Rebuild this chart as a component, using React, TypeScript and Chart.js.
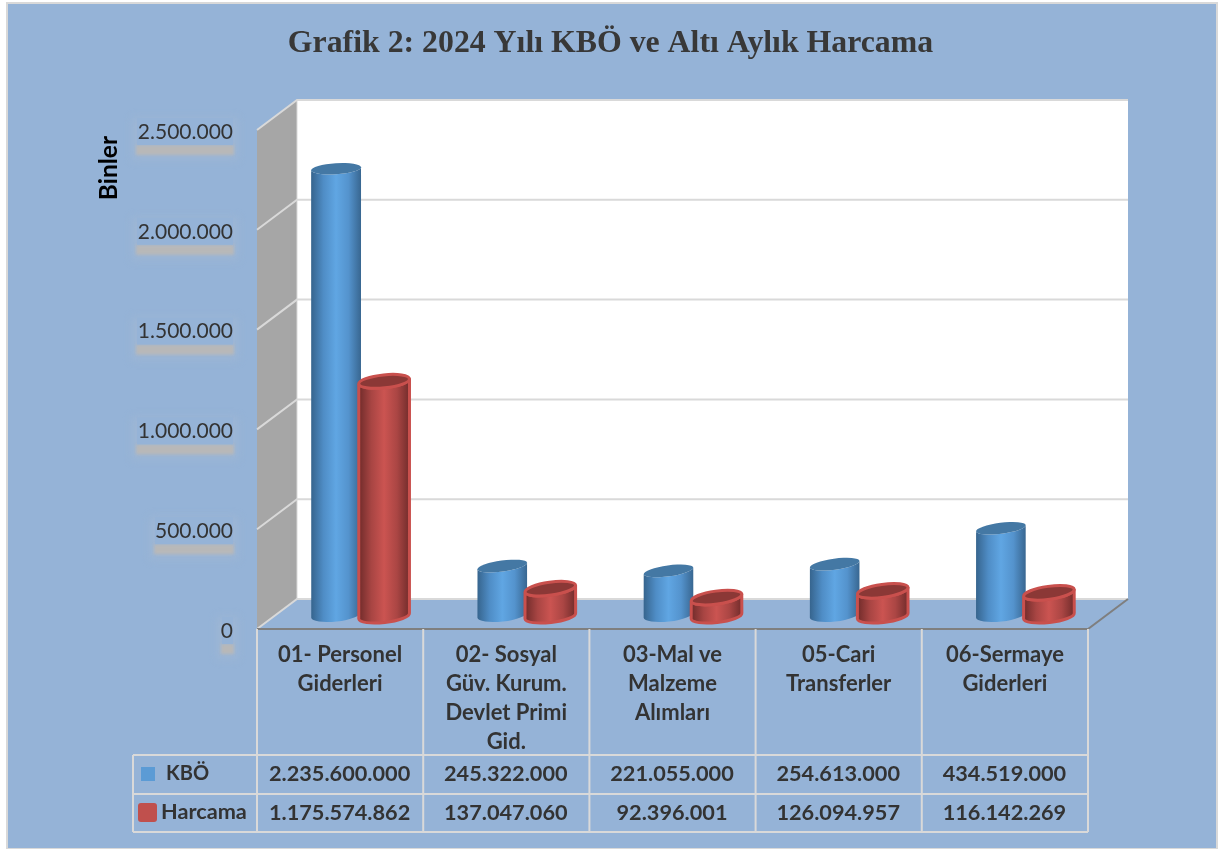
import React, { useEffect, useRef } from "react";
import { Chart, registerables } from "chart.js";

Chart.register(...registerables);

const categories: string[][] = [
  ["01- Personel", "Giderleri"],
  ["02- Sosyal", "Güv. Kurum.", "Devlet Primi", "Gid."],
  ["03-Mal ve", "Malzeme", "Alımları"],
  ["05-Cari", "Transferler"],
  ["06-Sermaye", "Giderleri"],
];
const kbo = [2235600000, 245322000, 221055000, 254613000, 434519000];
const harcama = [1175574862, 137047060, 92396001, 126094957, 116142269];
const yTicks = [0, 500000000, 1000000000, 1500000000, 2000000000, 2500000000];

const BG = "#95b3d7";
const GRID = "#d9d9d9";
const TEXT = "#333333";
const FONT = "Lato";

const dots = (n: number) => String(Math.round(n)).replace(/\B(?=(\d{3})+(?!\d))/g, ".");

const DEPTH_X = 40;
const DEPTH_Y = -30;
const BAR_DX = 20;
const BAR_DY = -14;

function line(ctx: CanvasRenderingContext2D, pts: number[][], color: string, w: number) {
  ctx.save();
  ctx.strokeStyle = color;
  ctx.lineWidth = w;
  ctx.beginPath();
  pts.forEach((p, i) => (i ? ctx.lineTo(p[0], p[1]) : ctx.moveTo(p[0], p[1])));
  ctx.stroke();
  ctx.restore();
}

function cylinder(
  ctx: CanvasRenderingContext2D,
  cx: number,
  top: number,
  base: number,
  rx: number,
  series: number
) {
  const tiltOf = (y: number) => (-(3 + (5 * (y - 100)) / 500) * Math.PI) / 180;
  const ry = series === 0 ? 5.5 : 6.5;
  const rotT = tiltOf(top);
  const rotB = tiltOf(base) * 0.8;
  const g = ctx.createLinearGradient(cx - rx, 0, cx + rx, 0);
  const stops =
    series === 0
      ? ["#36648d", "#4f8dc6", "#60a6e3", "#5493cd", "#386690"]
      : ["#6f2b2a", "#a84543", "#cb5451", "#ab4644", "#712c2b"];
  stops.forEach((c, i) => g.addColorStop(i / 4, c));
  ctx.save();
  ctx.beginPath();
  ctx.ellipse(cx, base, rx, ry + (series === 0 ? 1 : 0), rotB, Math.PI, 0, true);
  ctx.ellipse(cx, top, rx, ry, rotT, 0, Math.PI, false);
  ctx.closePath();
  ctx.fillStyle = g;
  ctx.fill();
  if (series === 1) {
    ctx.strokeStyle = "#c9504d";
    ctx.lineWidth = 3;
    ctx.stroke();
  }
  ctx.beginPath();
  ctx.ellipse(cx, top, rx, ry, rotT, 0, Math.PI * 2);
  ctx.fillStyle = series === 0 ? "#4478a4" : "#8b3836";
  ctx.fill();
  if (series === 1) {
    ctx.strokeStyle = "#c9504d";
    ctx.lineWidth = 3;
    ctx.stroke();
  }
  ctx.restore();
}

const scene = {
  id: "scene",
  beforeDraw(chart: any) {
    const { ctx, chartArea: a, width, height } = chart;
    const { left: L, right: R, top: T, bottom: B } = a;
    const y = chart.scales.y;
    ctx.save();
    ctx.fillStyle = "#ffffff";
    ctx.fillRect(0, 0, width, height);
    ctx.fillStyle = BG;
    ctx.fillRect(7, 3, 1209, 845);
    ctx.strokeStyle = GRID;
    ctx.lineWidth = 2;
    ctx.strokeRect(7, 3, 1210, 846);

    // move the value labels down to where the reference has them
    y.getLabelItems().forEach((it: any) => {
      if (!it.$moved) {
        it.options.translation[1] += 2;
        it.$moved = true;
      }
    });

    // shadowed plates under the value labels
    yTicks.forEach((v) => {
      const py = y.getPixelForValue(v);
      const w = v === 0 ? 11 : v === 500000000 ? 78 : 96;
      const x0 = 233 - w;
      ctx.save();
      ctx.filter = "blur(4px)";
      ctx.fillStyle = "rgba(165,185,210,0.5)";
      ctx.fillRect(x0 - 5, py - 12, w + 10, 42);
      ctx.filter = "blur(1.5px)";
      ctx.fillStyle = "#b8b8b8";
      ctx.fillRect(x0 - 1, py + 15, w + 2, 10);
      ctx.filter = "none";
      ctx.fillStyle = BG;
      ctx.fillRect(x0, py - 12, w, 27);
      ctx.restore();
    });

    // back wall
    ctx.fillStyle = "#ffffff";
    ctx.fillRect(L + DEPTH_X, T + DEPTH_Y, R - L, B - T);
    // side wall
    ctx.fillStyle = "#a6a6a6";
    ctx.beginPath();
    ctx.moveTo(L, T);
    ctx.lineTo(L + DEPTH_X, T + DEPTH_Y);
    ctx.lineTo(L + DEPTH_X, B + DEPTH_Y);
    ctx.lineTo(L, B);
    ctx.closePath();
    ctx.fill();
    // floor
    ctx.fillStyle = BG;
    ctx.beginPath();
    ctx.moveTo(L, B);
    ctx.lineTo(L + DEPTH_X, B + DEPTH_Y);
    ctx.lineTo(R + DEPTH_X, B + DEPTH_Y);
    ctx.lineTo(R, B);
    ctx.closePath();
    ctx.fill();
    // wall gridlines
    yTicks.forEach((v) => {
      const py = y.getPixelForValue(v);
      line(
        ctx,
        [
          [L, py],
          [L + DEPTH_X, py + DEPTH_Y],
          [R + DEPTH_X, py + DEPTH_Y],
        ],
        GRID,
        2
      );
    });
    line(ctx, [[L + DEPTH_X, T + DEPTH_Y], [L + DEPTH_X, B + DEPTH_Y]], GRID, 1);
    line(ctx, [[L, B], [R, B], [R + DEPTH_X, B + DEPTH_Y]], "#7f7f7f", 2);

    // data table grid
    const n = categories.length;
    const cw = (R - L) / n;
    const rows = [755, 794, 832];
    rows.forEach((ry) => line(ctx, [[133, ry], [R, ry]], GRID, 2));
    for (let i = 0; i <= n; i++) {
      const x = L + cw * i;
      line(ctx, [[x, B], [x, rows[2]]], GRID, 2);
    }
    line(ctx, [[133, rows[0]], [133, rows[2]]], GRID, 2);
    ctx.restore();
  },
  beforeDatasetDraw() {
    return false;
  },
  afterDatasetsDraw(chart: any) {
    const { ctx } = chart;
    [0, 1].forEach((s) => {
      chart.getDatasetMeta(s).data.forEach((el: any) => {
        const base = el.base + BAR_DY + s;
        const top = el.y + BAR_DY + s;
        cylinder(ctx, el.x + BAR_DX, top, base, s === 0 ? 25 : 25.5, s);
      });
    });
  },
  afterDraw(chart: any) {
    const { ctx } = chart;
    const x = chart.scales.x;
    ctx.save();
    ctx.fillStyle = TEXT;
    ctx.font = `bold 21.7px ${FONT}`;
    ctx.textAlign = "center";
    ctx.textBaseline = "middle";
    categories.forEach((_, i) => {
      const px = x.getPixelForTick(i) - 0.5;
      ctx.fillText(dots(kbo[i]), px, 774);
      ctx.fillText(dots(harcama[i]), px, 813);
    });
    // legend keys and names
    ctx.textAlign = "left";
    ctx.fillText("Harcama", 161, 812);
    ctx.font = `bold 20px ${FONT}`;
    ctx.fillText("KBÖ", 166, 774);
    ctx.fillStyle = "#5b9bd5";
    ctx.fillRect(141, 767, 14, 14);
    ctx.fillStyle = "#c0504d";
    ctx.beginPath();
    ctx.roundRect(138, 803, 19, 19, 3);
    ctx.fill();
    ctx.restore();
  },
};

export default function App() {
  const ref = useRef<HTMLCanvasElement>(null);
  useEffect(() => {
    document.body.style.margin = "0";
    const chart = new Chart(ref.current as HTMLCanvasElement, {
      type: "bar",
      data: {
        labels: categories,
        datasets: [
          { label: "KBÖ", data: kbo, backgroundColor: "#5b9bd5" },
          { label: "Harcama", data: harcama, backgroundColor: "#c0504d" },
        ],
      },
      plugins: [scene],
      options: {
        responsive: false,
        animation: false,
        layout: { padding: { top: 25, left: 0, right: 0, bottom: 0 } },
        datasets: { bar: { barPercentage: 1, categoryPercentage: 0.578 } },
        plugins: {
          legend: { display: false },
          tooltip: { enabled: false },
          title: {
            display: true,
            text: "Grafik 2: 2024 Yılı KBÖ ve Altı Aylık Harcama",
            color: "#383838",
            font: { family: "Liberation Serif", size: 31.8, weight: "bold", lineHeight: 1.2 },
            padding: { top: 0, bottom: 66.84 },
          },
        },
        scales: {
          x: {
            grid: { display: false },
            border: { display: false },
            ticks: {
              color: TEXT,
              font: { family: FONT, size: 22, weight: "bold", lineHeight: 1.318 },
              maxRotation: 0,
              autoSkip: false,
              padding: 3,
            },
            afterFit: (s: any) => {
              s.height = 220;
            },
          },
          y: {
            min: 0,
            max: 2500000000,
            afterBuildTicks: (s: any) => {
              s.ticks = yTicks.map((value) => ({ value }));
            },
            grid: { display: false },
            border: { display: false },
            title: {
              display: true,
              text: "Binler ",
              align: "end",
              color: "#000000",
              font: { family: FONT, size: 24.5, weight: "bold", lineHeight: 1.2 },
              padding: { top: 94, bottom: 0 },
            },
            ticks: {
              color: TEXT,
              font: { family: FONT, size: 21 },
              padding: 16,
              callback: (v: any) => dots(Number(v) / 1000),
            },
            afterFit: (s: any) => {
              s.width = 257;
            },
          },
          y2: {
            position: "right",
            min: 0,
            max: 1,
            display: true,
            grid: { display: false },
            border: { display: false },
            ticks: { display: false },
            afterFit: (s: any) => {
              s.width = 133;
            },
          },
        },
      } as any,
    });
    return () => chart.destroy();
  }, []);
  return (
    <div style={{ position: "absolute", left: 0, top: 0, width: 1221, height: 849 }}>
      <canvas ref={ref} width={1221} height={849} style={{ display: "block" }} />
    </div>
  );
}
